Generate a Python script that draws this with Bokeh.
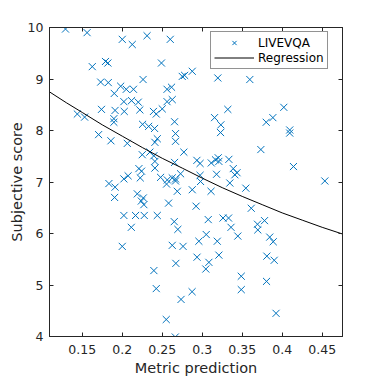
from bokeh.plotting import figure
from bokeh.models import Range1d, FixedTicker, LinearAxis, CustomJSTickFormatter
from bokeh.embed import file_html
from bokeh.resources import INLINE

# Scatter data: metric prediction vs subjective score (LIVEVQA)
metric = [
    0.129, 0.156, 0.200, 0.2125, 0.231, 0.260, 0.2875, 0.3195, 0.3595, 0.1625,
    0.179, 0.182, 0.249, 0.226, 0.275, 0.278, 0.173, 0.1825, 0.190, 0.198,
    0.205, 0.214, 0.256, 0.2616, 0.202, 0.2116, 0.220, 0.256, 0.2625, 0.174,
    0.191, 0.2025, 0.222, 0.239, 0.2425, 0.250, 0.2654, 0.1895, 0.1895, 0.2254,
    0.233, 0.2404, 0.1438, 0.1529, 0.1704, 0.1858, 0.2666, 0.2063, 0.2438, 0.2408,
    0.2666, 0.225, 0.2345, 0.2395, 0.2408, 0.277, 0.2654, 0.2933, 0.2973, 0.2208,
    0.2241, 0.2408, 0.2073, 0.202, 0.2225, 0.2479, 0.2563, 0.2625, 0.2666, 0.2729,
    0.2554, 0.2666, 0.2973, 0.1833, 0.191, 0.1904, 0.2688, 0.2875, 0.2188, 0.2263,
    0.2238, 0.227, 0.2579, 0.2923, 0.202, 0.2166, 0.2275, 0.2438, 0.265, 0.2113,
    0.2695, 0.200, 0.2395, 0.2425, 0.255, 0.2663, 0.2625, 0.276, 0.267, 0.2873,
    0.2735, 0.2958, 0.2935, 0.332, 0.3154, 0.3233, 0.3229, 0.402, 0.3883, 0.380,
    0.4094, 0.4094, 0.3733, 0.3113, 0.3166, 0.320, 0.3208, 0.3333, 0.3388, 0.3435,
    0.3408, 0.4141, 0.3179, 0.2979, 0.3345, 0.3545, 0.311, 0.4533, 0.3613, 0.3075,
    0.326, 0.3329, 0.336, 0.3779, 0.3691, 0.3695, 0.3445, 0.3844, 0.3888, 0.3188,
    0.305, 0.3083, 0.3045, 0.3208, 0.3808, 0.390, 0.3488, 0.3488, 0.3804, 0.3923,
]
score = [
    9.97, 9.90, 9.77, 9.67, 9.84, 9.77, 9.15, 9.02, 8.99, 9.24,
    9.34, 9.31, 9.31, 8.99, 9.05, 9.07, 8.94, 8.93, 8.72, 8.86,
    8.80, 8.80, 8.80, 8.84, 8.56, 8.58, 8.55, 8.56, 8.60, 8.41,
    8.39, 8.37, 8.40, 8.37, 8.32, 8.42, 8.17, 8.23, 8.16, 8.12,
    8.08, 8.04, 8.32, 8.26, 7.92, 7.80, 7.94, 7.75, 7.84, 7.77,
    7.79, 7.53, 7.58, 7.51, 7.40, 7.58, 7.38, 7.42, 7.36, 7.26,
    7.21, 7.27, 7.12, 7.06, 7.08, 7.09, 7.04, 7.08, 7.06, 7.16,
    6.96, 7.02, 7.13, 6.97, 6.90, 6.70, 6.82, 6.85, 6.77, 6.69,
    6.63, 6.56, 6.59, 6.53, 6.35, 6.35, 6.35, 6.35, 6.23, 6.12,
    6.08, 5.75, 5.28, 4.93, 4.33, 3.99, 5.77, 5.75, 5.42, 4.87,
    4.72, 5.85, 5.54, 8.41, 8.25, 8.11, 7.96, 8.45, 8.25, 8.16,
    8.01, 7.95, 7.63, 7.37, 7.43, 7.47, 7.40, 7.44, 7.26, 7.18,
    7.14, 7.30, 7.15, 7.01, 6.98, 6.88, 6.82, 7.02, 6.49, 6.27,
    6.30, 6.30, 6.12, 6.25, 6.18, 6.07, 5.95, 5.93, 5.84, 5.85,
    5.98, 5.44, 5.31, 5.58, 5.56, 5.48, 5.17, 4.91, 5.07, 4.45,
]

# Regression curve
reg_x = [0.109, 0.13, 0.15, 0.175, 0.2, 0.225, 0.25, 0.275, 0.3,
         0.325, 0.35, 0.375, 0.4, 0.425, 0.45, 0.4754]
reg_y = [8.75, 8.54, 8.35, 8.11, 7.89, 7.67, 7.46, 7.27, 7.075,
         6.89, 6.72, 6.56, 6.40, 6.26, 6.12, 5.99]

x_ticks = [0.15, 0.2, 0.25, 0.3, 0.35, 0.4, 0.45]
x_tick_labels = ["0.15", "0.2", "0.25", "0.3", "0.35", "0.4", "0.45"]
y_ticks = [4, 5, 6, 7, 8, 9, 10]
x_limits = (0.109, 0.4754)
y_limits = (4, 10)

DARK = "#262626"
BLUE = "#0072BD"
FONT = "DejaVu Sans"

p = figure(
    frame_width=293, frame_height=309,
    x_range=Range1d(*x_limits), y_range=Range1d(*y_limits),
    output_backend="svg", toolbar_location=None,
    min_border_left=49, min_border_top=27, min_border_right=28, min_border_bottom=41,
    background_fill_color="white", border_fill_color="white",
)
p.xgrid.visible = False
p.ygrid.visible = False
p.outline_line_color = DARK
p.outline_line_width = 1

p.scatter(metric, score, marker="x", size=10, line_color=BLUE, line_width=1,
          legend_label="LIVEVQA")
p.line(reg_x, reg_y, line_color="black", line_width=1, legend_label="Regression")

def style_axis(ax):
    ax.axis_line_color = DARK
    ax.major_tick_line_color = DARK
    ax.major_tick_in = 4
    ax.major_tick_out = 0
    ax.minor_tick_in = 0
    ax.minor_tick_out = 0
    ax.major_label_text_font = FONT
    ax.major_label_text_font_size = "12.5px"
    ax.major_label_text_color = DARK
    ax.axis_label_text_font = FONT
    ax.axis_label_text_font_size = "14.5px"
    ax.axis_label_text_font_style = "normal"
    ax.axis_label_text_color = DARK

xa = p.xaxis[0]
ya = p.yaxis[0]
style_axis(xa)
style_axis(ya)
xa.ticker = FixedTicker(ticks=x_ticks)
xa.major_label_overrides = dict(zip(x_ticks, x_tick_labels))
ya.ticker = FixedTicker(ticks=y_ticks)
xa.axis_label = "Metric prediction"
ya.axis_label = "Subjective score"
xa.major_label_standoff = 8
xa.axis_label_standoff = 3
ya.major_label_standoff = 6
ya.axis_label_standoff = 0

top = LinearAxis(ticker=FixedTicker(ticks=x_ticks),
                 formatter=CustomJSTickFormatter(code="return ''"))
right = LinearAxis(ticker=FixedTicker(ticks=y_ticks),
                   formatter=CustomJSTickFormatter(code="return ''"))
for ax in (top, right):
    style_axis(ax)
    ax.major_label_standoff = 0
p.add_layout(top, "above")
p.add_layout(right, "right")

lg = p.legend[0]
lg.location = (161, 267)
lg.border_line_color = DARK
lg.border_line_width = 1
lg.background_fill_color = "white"
lg.background_fill_alpha = 1
lg.label_text_font = FONT
lg.label_text_font_size = "12px"
lg.label_text_color = "black"
lg.padding = 3
lg.spacing = 0
lg.margin = 0
lg.glyph_width = 40
lg.glyph_height = 15
lg.label_height = 15
lg.label_standoff = 4

open("out.html", "w").write(file_html(p, INLINE))
